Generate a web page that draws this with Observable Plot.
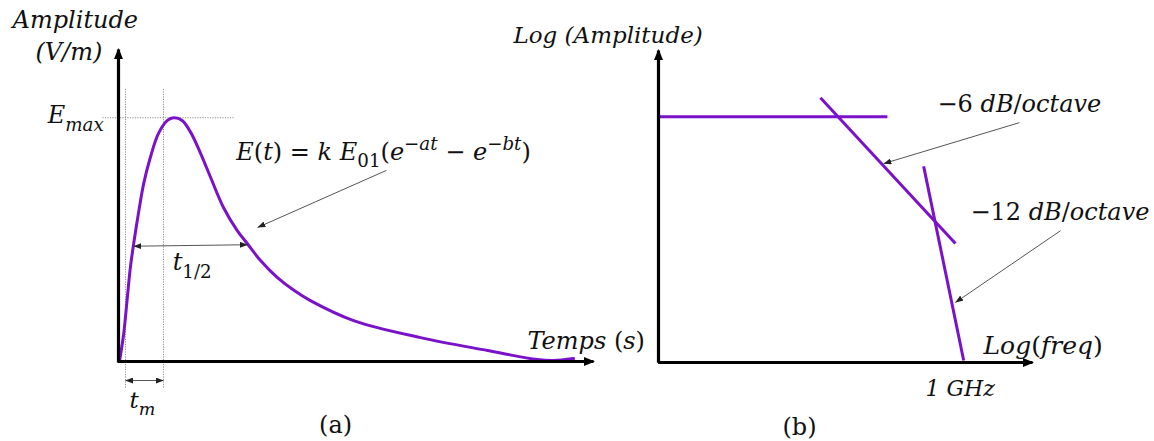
<!DOCTYPE html>
<html>
<head>
<meta charset="utf-8">
<script src="https://cdn.jsdelivr.net/npm/d3@7"></script>
<script src="https://cdn.jsdelivr.net/npm/@observablehq/plot@0.6"></script>
<style>
  html, body { margin: 0; padding: 0; background: #fff; }
  #wrap { position: relative; width: 1154px; height: 441px; overflow: hidden; background: #fff; }
  #wrap > div { position: absolute; top: 0; }
</style>
</head>
<body>
<div id="wrap"><div id="pa" style="left:0"></div><div id="pb" style="left:577px"></div></div>
<script>
// ---------- Panel (a): double-exponential pulse (time units, amplitude normalised to Emax = 1)
const curveT = [0.02, 0.11, 0.18, 0.25, 0.32, 0.43, 0.53, 0.67, 0.84, 1.03, 1.16, 1.34, 1.52, 1.73, 1.94, 2.21, 2.50, 2.71, 2.99, 3.34, 3.70, 4.04, 4.95, 6.36, 7.77, 8.82, 9.16, 9.58];
const curveA = [0.0, 0.115, 0.25, 0.386, 0.484, 0.62, 0.73, 0.837, 0.935, 0.989, 1.0, 0.989, 0.94, 0.853, 0.755, 0.632, 0.537, 0.484, 0.414, 0.345, 0.291, 0.25, 0.168, 0.098, 0.045, 0.008, 0.004, 0.012];
const eMax = 1.0;
const tmMarks = [0.147, 0.947];          // dotted verticals bounding t_m
const halfWidth = [0.32, 2.72];          // t_1/2 span
const halfLevel = [0.473, 0.479];
const axisEndA = [10, 1.28];             // [time max, amplitude max]
const formulaArrow = [5.64, 0.784, 2.93, 0.55];
const labelsA = ["Amplitude", "(V/m)", "E_{max}", "t_{1/2}", "t_{m}", "E(t) = k E_{01}(e^{−at} − e^{−bt})", "Temps (s)", "(a)"];
const labelsAx = [-2.23, -1.75, -1.49, 1.14, 0.23, 2.48, 8.61, 4.57];
const labelsAy = [1.40, 1.269, 1.009, 0.405, -0.16, 0.859, 0.081, -0.26];
const labelsAmode = ["italic", "italic", "math", "math", "math", "math", "math", "plain"];

// ---------- Panel (b): asymptotic spectrum (log frequency, log amplitude)
const flatLevel = 6.3, flatEnd = 6.12;
const slope6 = [4.33, 6.79, 7.94, 3.05];
const slope12 = [7.09, 5.03, 8.16, 0.05];
const arrow6 = [9.65, 6.15, 6.02, 5.10];
const arrow12 = [10.75, 3.38, 7.94, 1.54];
const axisEndB = [10, 8];
const labelsB = ["−6 dB/octave", "−12 dB/octave", "Log(freq)", "1 GHz", "Log (Amplitude)", "(b)"];
const labelsBx = [7.46, 8.34, 8.69, 7.14, -3.88, 3.77];
const labelsBy = [6.62, 3.86, 0.43, -0.67, 8.38, -1.67];
const labelsBmode = ["math", "math", "math", "italic", "italic", "plain"];

const purple = "#7a12c9";
const FONT = "'DejaVu Serif', serif";

// ---------- helpers
const pts = (xs, ys) => xs.map((x, i) => ({x, y: ys[i]}));
const seg = (a) => ({x1: a[0], y1: a[1], x2: a[2], y2: a[3]});
const markG = (svg, i) => svg.querySelectorAll(":scope > g")[i];

function addMarker(svg, id, color, len, wid, back) {
  let defs = d3.select(svg).select("defs.custom");
  if (defs.empty()) defs = d3.select(svg).insert("defs", ":first-child").attr("class", "custom");
  defs.append("marker").attr("id", id)
    .attr("markerUnits", "userSpaceOnUse")
    .attr("viewBox", `0 0 ${len} ${wid}`)
    .attr("markerWidth", len).attr("markerHeight", wid)
    .attr("refX", len - back).attr("refY", wid / 2)
    .attr("orient", "auto-start-reverse")
    .append("path").attr("d", `M0,0L${len},${wid / 2}L0,${wid}Z`).attr("fill", color);
}

function richify(g, mode, fs) {
  d3.select(g).selectAll("text").each(function () {
    const raw = this.textContent;
    const runs = [];
    let i = 0, buf = "";
    while (i < raw.length) {
      if ((raw[i] === "_" || raw[i] === "^") && raw[i + 1] === "{") {
        if (buf) { runs.push({s: buf, lvl: 0}); buf = ""; }
        const j = raw.indexOf("}", i);
        runs.push({s: raw.slice(i + 2, j), lvl: raw[i] === "_" ? -1 : 1});
        i = j + 1;
      } else { buf += raw[i]; i++; }
    }
    if (buf) runs.push({s: buf, lvl: 0});
    const groups = [];
    for (const r of runs) {
      for (const ch of r.s) {
        let it = mode === "italic" ? true : mode === "plain" ? false : /[A-Za-z]/.test(ch);
        const last = groups[groups.length - 1];
        if (ch === " " && last) it = last.it;
        if (last && last.it === it && last.lvl === r.lvl) last.s += ch;
        else groups.push({s: ch, it, lvl: r.lvl});
      }
    }
    const sel = d3.select(this);
    sel.text(null);
    let cur = 0;
    for (const gr of groups) {
      const target = gr.lvl === -1 ? 0.32 * fs : gr.lvl === 1 ? -0.42 * fs : 0;
      sel.append("tspan")
        .attr("dy", (target - cur).toFixed(2))
        .attr("font-size", gr.lvl ? fs * 0.76 : fs)
        .attr("font-style", gr.it ? "italic" : "normal")
        .text(gr.s);
      cur = target;
    }
  });
}

// ---------- Panel (a)
const curve = pts(curveT, curveA);
const guidesA = [
  {x1: tmMarks[0], y1: -0.107, x2: tmMarks[0], y2: 1.124},
  {x1: tmMarks[1], y1: -0.107, x2: tmMarks[1], y2: 1.124},
  {x1: -0.34, y1: eMax, x2: 2.42, y2: eMax}
];
const axesA = [
  {x1: 0, y1: -0.004, x2: 0, y2: axisEndA[1]},
  {x1: -0.01, y1: 0, x2: axisEndA[0], y2: 0}
];
const dblA = [
  {x1: halfWidth[0], y1: halfLevel[0], x2: halfWidth[1], y2: halfLevel[1]},
  {x1: tmMarks[0], y1: -0.078, x2: tmMarks[1], y2: -0.078}
];
const textA = labelsA.map((s, i) => ({s, x: labelsAx[i], y: labelsAy[i]}));
const sizeA = [24, 24, 24, 24, 23, 24, 24, 24];

const plotA = Plot.plot({
  width: 577, height: 441, margin: 0,
  style: {fontFamily: FONT, background: "transparent", overflow: "visible"},
  x: {domain: [0, axisEndA[0]], range: [118, 593], axis: null},
  y: {domain: [0, axisEndA[1]], range: [361, 49], axis: null},
  marks: [
    Plot.link(guidesA, {x1: "x1", y1: "y1", x2: "x2", y2: "y2", stroke: "#8c8c8c", strokeWidth: 1, strokeDasharray: "1.2 1.3"}),
    Plot.line(curve, {x: "x", y: "y", stroke: purple, strokeWidth: 3, curve: "catmull-rom"}),
    Plot.link(axesA, {x1: "x1", y1: "y1", x2: "x2", y2: "y2", stroke: "#000", strokeWidth: 3.2}),
    Plot.link(dblA, {x1: "x1", y1: "y1", x2: "x2", y2: "y2", stroke: "#555", strokeWidth: 1}),
    Plot.link([seg(formulaArrow)], {x1: "x1", y1: "y1", x2: "x2", y2: "y2", stroke: "#555", strokeWidth: 1}),
    ...textA.map((d, i) => Plot.text([d], {x: "x", y: "y", text: "s", textAnchor: i === 7 ? "middle" : "start", fontSize: sizeA[i], fill: "#111"}))
  ]
});
document.getElementById("pa").append(plotA);
addMarker(plotA, "headAxisA", "#000", 11, 9, 1.5);
addMarker(plotA, "headThinA", "#222", 8, 6, 0.3);
d3.select(markG(plotA, 2)).selectAll("path").attr("marker-end", "url(#headAxisA)");
d3.select(markG(plotA, 3)).selectAll("path").attr("marker-end", "url(#headThinA)").attr("marker-start", "url(#headThinA)");
d3.select(markG(plotA, 4)).selectAll("path").attr("marker-end", "url(#headThinA)");
textA.forEach((d, i) => richify(markG(plotA, 5 + i), labelsAmode[i], sizeA[i]));

// ---------- Panel (b)
const linesB = [
  {x1: 0, y1: flatLevel, x2: flatEnd, y2: flatLevel},
  seg(slope6),
  seg(slope12)
];
const axesB = [
  {x1: 0, y1: -0.004, x2: 0, y2: axisEndB[1]},
  {x1: -0.01, y1: 0, x2: axisEndB[0], y2: 0}
];
const textB = labelsB.map((s, i) => ({s, x: labelsBx[i], y: labelsBy[i]}));
const sizeB = [24, 24, 25, 22, 23, 24];

const plotB = Plot.plot({
  width: 577, height: 441, margin: 0,
  style: {fontFamily: FONT, background: "transparent", overflow: "visible"},
  x: {domain: [0, axisEndB[0]], range: [81, 455], axis: null},
  y: {domain: [0, axisEndB[1]], range: [362, 50], axis: null},
  marks: [
    Plot.link(linesB, {x1: "x1", y1: "y1", x2: "x2", y2: "y2", stroke: purple, strokeWidth: 3}),
    Plot.link(axesB, {x1: "x1", y1: "y1", x2: "x2", y2: "y2", stroke: "#000", strokeWidth: 3.2}),
    Plot.link([seg(arrow6), seg(arrow12)], {x1: "x1", y1: "y1", x2: "x2", y2: "y2", stroke: "#555", strokeWidth: 1}),
    ...textB.map((d, i) => Plot.text([d], {x: "x", y: "y", text: "s", textAnchor: i === 5 ? "middle" : "start", fontSize: sizeB[i], fill: "#111"}))
  ]
});
document.getElementById("pb").append(plotB);
addMarker(plotB, "headAxisB", "#000", 11, 9, 1.5);
addMarker(plotB, "headThinB", "#222", 8, 6, 0.3);
d3.select(markG(plotB, 1)).selectAll("path").attr("marker-end", "url(#headAxisB)");
d3.select(markG(plotB, 2)).selectAll("path").attr("marker-end", "url(#headThinB)");
textB.forEach((d, i) => richify(markG(plotB, 3 + i), labelsBmode[i], sizeB[i]));
</script>
</body>
</html>
